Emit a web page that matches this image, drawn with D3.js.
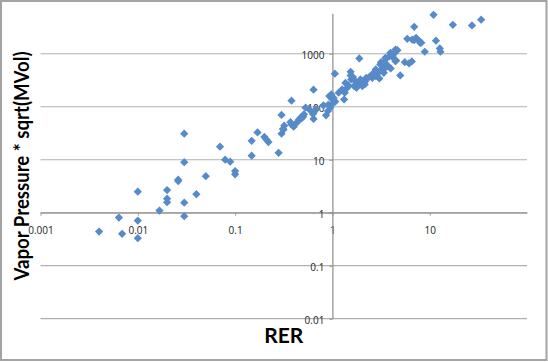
<!DOCTYPE html>
<html lang="en">
<head>
	<meta charset="UTF-8">
	<title>Vapor Pressure vs RER</title>
	<script src="https://d3js.org/d3.v7.min.js"></script>
	<style>
		body { margin: 0; background: #fff; }
	</style>
</head>
<body>
	<svg width="548" height="362"></svg>
	<script>
		// RER (x) and vapor pressure * sqrt(MVol) (y)
		var rer = [0.004, 0.0064, 0.0069, 0.01, 0.01, 0.01, 0.0167, 0.02, 0.02, 0.02,
			0.026, 0.026, 0.03, 0.03, 0.03, 0.03, 0.04, 0.05, 0.07, 0.079,
			0.089, 0.1, 0.1, 0.148, 0.148, 0.17, 0.2, 0.21, 0.22, 0.28,
			0.30, 0.30, 0.31, 0.32, 0.38, 0.38, 0.40, 0.43, 0.45, 0.48,
			0.50, 0.53, 0.64, 0.64, 0.63, 0.58, 0.68, 0.81, 0.86, 0.90,
			0.91, 0.93, 0.975, 1.0, 1.02, 1.06, 1.07, 1.03, 0.95, 0.315,
			0.37, 0.47, 0.51, 0.64, 1.16, 1.26, 1.32, 1.34, 1.42, 1.46,
			1.54, 1.54, 1.56, 1.63, 1.67, 1.77, 1.89, 1.86, 2.0, 2.09,
			2.15, 2.03, 2.23, 2.4, 2.57, 2.79, 2.79, 2.96, 3.04, 3.16,
			3.2, 3.28, 3.37, 3.43, 3.57, 3.75, 3.86, 3.97, 4.12, 4.33,
			4.51, 4.66, 4.98, 5.55, 5.88, 6.13, 6.55, 6.93, 6.93, 7.24,
			7.73, 8.19, 8.9, 10.95, 11.6, 12.7, 12.9, 17.3, 27.2, 33.8,
			1.36, 1.72, 1.94, 2.18, 2.66, 3.1, 3.51, 3.95, 4.45, 4.45,
			3.37, 2.46, 6.6, 8.0];
		var vapor = [0.44, 0.81, 0.40, 0.71, 0.33, 2.5, 1.1, 1.84, 2.67, 1.58,
			3.95, 4.2, 31, 9.0, 1.55, 0.86, 2.24, 4.9, 17.6, 10,
			9.2, 6.1, 5.3, 22.8, 11.9, 32.7, 27, 24, 21.5, 13.5,
			70, 31, 38, 44, 130, 46, 42, 50, 56, 60,
			65, 96, 210, 59, 73, 89, 89, 106, 69, 83,
			110, 159, 171, 137, 118, 420, 125, 147, 96, 37,
			51, 62, 72, 77, 184, 212, 137, 184, 228, 252,
			389, 457, 327, 364, 245, 228, 815, 260, 264, 304,
			264, 245, 352, 366, 352, 506, 378, 438, 342, 695,
			506, 584, 438, 695, 805, 584, 901, 528, 877, 1014,
			748, 1170, 389, 695, 1919, 656, 717, 3230, 1810, 2003,
			1760, 1614, 1091, 5440, 1760, 1259, 1091, 3524, 3420, 4385,
			282, 304, 327, 304, 437, 630, 840, 1040, 1200, 725,
			506, 378, 1850, 1600];

		var xTicks = [0.001, 0.01, 0.1, 1, 10];
		var xTickLabels = ["0.001", "0.01", "0.1", "1", "10"];
		var yTicks = [0.01, 0.1, 1, 10, 100, 1000];
		var yTickLabels = ["0.01", "0.1", "1", "10", "100", "1000"];

		var svg = d3.select("svg");
		var W = 548, H = 362;
		var plotLeft = 40.5, plotRight = 527, plotTop = 13.3, plotBottom = 318.7;

		var x = d3.scaleLog().domain([0.001, 100]).range([plotLeft, plotRight]);
		var y = d3.scaleLog().domain([0.01, 5800]).range([plotBottom, plotTop]);

		// chart border
		svg.append("rect")
			.attr("x", 1).attr("y", 1)
			.attr("width", W - 2.5).attr("height", H - 3)
			.attr("fill", "#fff")
			.attr("stroke", "#a3a3a3")
			.attr("stroke-width", 2);

		// horizontal gridlines
		svg.append("g")
			.selectAll("line")
			.data(yTicks)
			.enter()
			.append("line")
			.attr("x1", plotLeft).attr("x2", plotRight)
			.attr("y1", function(d) { return y(d); })
			.attr("y2", function(d) { return y(d); })
			.attr("stroke", "#b0b0b0")
			.attr("stroke-width", 1.2);

		// x axis, crossing at y = 1
		var xAxis = svg.append("g")
			.attr("transform", "translate(0," + y(1) + ")")
			.call(d3.axisBottom(x)
				.tickValues(xTicks)
				.tickFormat(function(d, i) { return xTickLabels[i]; })
				.tickSizeInner(3).tickSizeOuter(0));
		xAxis.select(".domain").attr("stroke", "#9a9a9a").attr("stroke-width", 1.2);
		xAxis.selectAll(".tick line").attr("stroke", "#9a9a9a");
		xAxis.selectAll("text")
			.attr("y", 18).attr("dy", "0.35em")
			.style("font-family", "'Open Sans', sans-serif")
			.style("font-size", "10px")
			.attr("fill", "#222");

		// y axis, crossing at x = 1
		var yAxis = svg.append("g")
			.attr("transform", "translate(" + x(1) + ",0)")
			.call(d3.axisLeft(y)
				.tickValues(yTicks)
				.tickFormat(function(d, i) { return yTickLabels[i]; })
				.tickSizeInner(3).tickSizeOuter(0));
		yAxis.select(".domain").attr("stroke", "#8c8c8c").attr("stroke-width", 1.2);
		yAxis.selectAll(".tick line").attr("stroke", "#8c8c8c");
		yAxis.selectAll("text")
			.attr("x", -8).attr("dy", "0.45em")
			.style("font-family", "'Open Sans', sans-serif")
			.style("font-size", "10px")
			.attr("fill", "#222");

		// points as diamonds
		var diamond = d3.symbol().type(d3.symbolSquare).size(34);
		svg.append("g")
			.selectAll("path")
			.data(rer)
			.enter()
			.append("path")
			.attr("d", diamond)
			.attr("transform", function(d, i) {
				return "translate(" + x(d) + "," + y(vapor[i]) + ") rotate(45)";
			})
			.attr("fill", "#568ac8");

		// axis titles
		svg.append("text")
			.attr("x", (plotLeft + plotRight) / 2)
			.attr("y", 343)
			.attr("text-anchor", "middle")
			.style("font-family", "Lato, sans-serif")
			.style("font-weight", "bold")
			.style("font-size", "21px")
			.text("RER");

		svg.append("text")
			.attr("transform", "translate(29," + (plotTop + plotBottom) / 2 + ") rotate(-90)")
			.attr("text-anchor", "middle")
			.attr("textLength", 229)
			.attr("lengthAdjust", "spacingAndGlyphs")
			.style("font-family", "Lato, sans-serif")
			.style("font-weight", "bold")
			.style("font-size", "20px")
			.text("Vapor Pressure * sqrt(MVol)");
	</script>
</body>
</html>
